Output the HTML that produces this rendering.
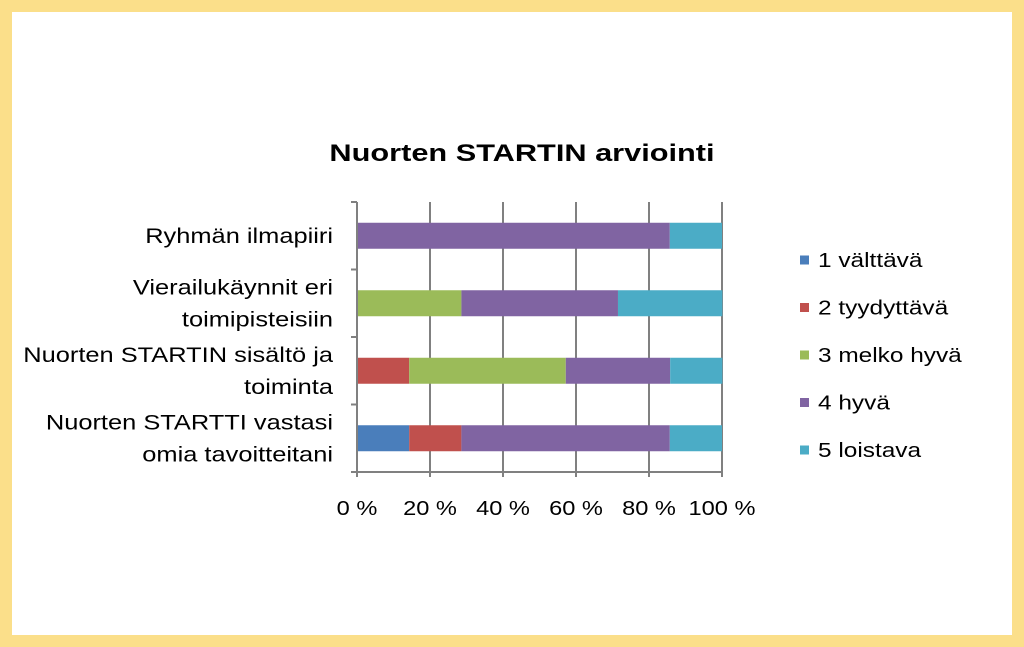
<!DOCTYPE html>
<html><head><meta charset="utf-8"><style>
html,body{margin:0;padding:0;}
body{width:1024px;height:647px;background:#fbdf8a;position:relative;overflow:hidden;font-family:"Liberation Sans",sans-serif;}
#inner{position:absolute;left:12px;top:12px;width:1000px;height:623px;background:#fff;}
svg{position:absolute;left:0;top:0;}
</style></head><body>
<div id="inner"></div>
<svg id="chart" width="1024" height="647"></svg>
<script>
const categories = ["Ryhmän ilmapiiri","Vierailukäynnit eri|toimipisteisiin","Nuorten STARTIN sisältö ja|toiminta","Nuorten STARTTI vastasi|omia tavoitteitani"];
const seriesNames = ["1 välttävä","2 tyydyttävä","3 melko hyvä","4 hyvä","5 loistava"];
const s1 = [0,0,0,14.3];
const s2 = [0,0,14.3,14.3];
const s3 = [0,28.6,42.9,0];
const s4 = [85.7,42.9,28.6,57.1];
const s5 = [14.3,28.6,14.3,14.3];
const tickLabels = ["0 %","20 %","40 %","60 %","80 %","100 %"];
const colors = ["#4a7ebb","#c0504d","#9bbb59","#8064a2","#4bacc6"];
const series=[s1,s2,s3,s4,s5];
const NS="http://www.w3.org/2000/svg";
const svg=document.getElementById('chart');
const x0=357,x1=722,yTop=202,yBot=472;
const band=(yBot-yTop)/categories.length;
const xs=v=>x0+(x1-x0)*v/100;
function mk(t,a){const e=document.createElementNS(NS,t);for(const k in a)e.setAttribute(k,a[k]);svg.appendChild(e);return e;}
function stretch(el,k){const w=el.getComputedTextLength();el.setAttribute('textLength',w*k);el.setAttribute('lengthAdjust','spacingAndGlyphs');}
const title=mk('text',{x:522,y:161,'text-anchor':'middle','font-size':24,'font-weight':'bold',fill:'#000'});
title.textContent="Nuorten STARTIN arviointi";


stretch(title,1.28);
tickLabels.forEach((t,i)=>{
  const x=xs(i*20);
  const g=mk('line',{x1:x,x2:x,y1:yTop,y2:yBot+5,stroke:'#808080','stroke-width':2});
  
  
  const tx=mk('text',{x:x,y:515,'text-anchor':'middle','font-size':20,fill:'#000'});
  tx.textContent=t;
  
  
  stretch(tx,1.18);
});
const ax=mk('line',{x1:x0-6,x2:x1,y1:yBot,y2:yBot,stroke:'#808080','stroke-width':2});


for(let i=0;i<=categories.length;i++){
  const y=yTop+i*band;
  const t=mk('line',{x1:x0-6,x2:x0,y1:y,y2:y,stroke:'#808080','stroke-width':2});
  
  
}
categories.forEach((c,i)=>{
  const yc=yTop+band*i+band/2;
  let acc=0;
  series.forEach((s,k)=>{
    const v=s[i];
    if(v>0){
      const r=mk('rect',{x:xs(acc),y:yc-13,width:xs(acc+v)-xs(acc),height:26,fill:colors[k]});
      
      
    }
    acc+=v;
  });
  const lines=c.split('|');
  lines.forEach((ln,j)=>{
    const y=yc+7+(j-(lines.length-1)/2)*32;
    const t=mk('text',{x:333,y:y,'text-anchor':'end','font-size':21,fill:'#000'});
    t.textContent=ln;
    
    
    stretch(t,1.21);
  });
});
const yax=mk('line',{x1:x0,x2:x0,y1:yTop,y2:yBot+5,stroke:'#808080','stroke-width':2});


seriesNames.forEach((n,k)=>{
  const y=260+k*47.5;
  const r=mk('rect',{x:800,y:y-4.5,width:9,height:9,fill:colors[k]});
  
  
  const t=mk('text',{x:818,y:y+7,'font-size':20,fill:'#000'});
  t.textContent=n;
  
  
  stretch(t,1.22);
});
</script>
</body></html>
